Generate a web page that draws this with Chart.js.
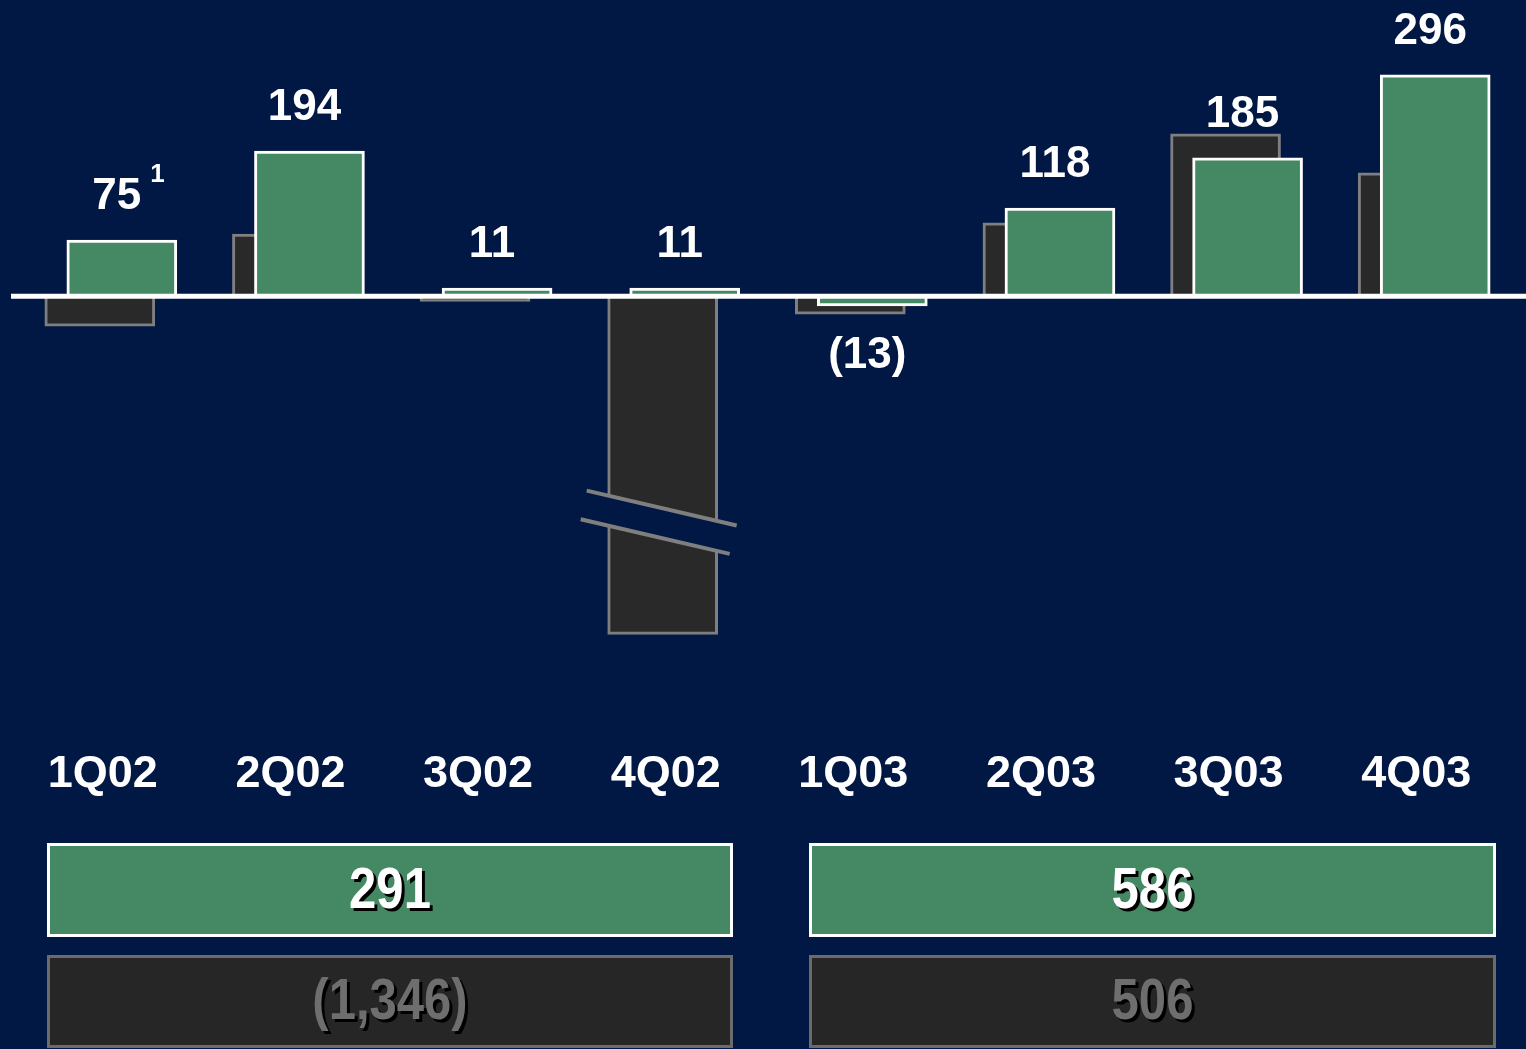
<!DOCTYPE html>
<html>
<head>
<meta charset="utf-8">
<script src="https://cdn.jsdelivr.net/npm/chart.js@4"></script>
<style>
  html, body { margin: 0; padding: 0; background: #011844; }
  canvas { display: block; }
</style>
</head>
<body>
<canvas id="earnings" width="1526" height="1049"></canvas>
<script>
const quarters = ['1Q02', '2Q02', '3Q02', '4Q02', '1Q03', '2Q03', '3Q03', '4Q03'];
const currentValues = [75, 194, 11, 11, -13, 118, 185, 296];
const priorValues = [-40, 83, -7, -1382, -24, 98, 217, 165];
const footnotes = ['1', '', '', '', '', '', '', ''];
const currentTotals = [291, 586];
const priorTotals = [-1346, 506];

const NAVY = '#011844';
const GREEN = '#448864';
const GRAY_FILL = '#292929';
const GRAY_EDGE = '#7f7f7f';
const BREAK_FLOOR = -452;   // bars deeper than this get cut with a break mark
const PAIR_SHIFT = 0.0587;  // half the offset between the two bars of a quarter
const LABEL_FONT = 'bold 44px "Liberation Sans", Arial, sans-serif';
const TOTAL_FONT = 'bold 57px "Liberation Sans", Arial, sans-serif';
const BOX_X = [[47, 733], [809, 1496]];

function fmt(v) {
  const s = Math.abs(v).toLocaleString('en-US');
  return v < 0 ? '(' + s + ')' : s;
}

const background = {
  id: 'background',
  beforeDraw(chart) {
    const c = chart.ctx;
    c.save();
    c.fillStyle = NAVY;
    c.fillRect(0, 0, chart.width, chart.height);
    c.restore();
  }
};

const decorations = {
  id: 'decorations',
  afterDatasetsDraw(chart) {
    const c = chart.ctx;
    const ys = chart.scales.y;
    const zero = ys.getPixelForValue(0);
    const cur = chart.getDatasetMeta(0);
    const prev = chart.getDatasetMeta(1);
    c.save();

    // axis break on the bars that run off the scale
    priorValues.forEach((v, i) => {
      if (v >= BREAK_FLOOR) return;
      const bar = prev.data[i];
      const cx = bar.x, cy = bar.y - 112, s = 0.233;
      const l1 = x => cy - 14 + (x - cx) * s;
      const l2 = x => cy + 16 + (x - cx) * s;
      c.fillStyle = NAVY;
      c.beginPath();
      c.moveTo(cx - 62, l1(cx - 62));
      c.lineTo(cx + 62, l1(cx + 62));
      c.lineTo(cx + 62, l2(cx + 62));
      c.lineTo(cx - 62, l2(cx - 62));
      c.closePath();
      c.fill();
      c.strokeStyle = GRAY_EDGE;
      c.lineWidth = 4;
      c.beginPath();
      c.moveTo(cx - 76, l1(cx - 76));
      c.lineTo(cx + 74, l1(cx + 74));
      c.moveTo(cx - 82, l2(cx - 82));
      c.lineTo(cx + 67, l2(cx + 67));
      c.stroke();
    });

    // zero line
    c.strokeStyle = '#ffffff';
    c.lineWidth = 5;
    c.beginPath();
    c.moveTo(11, zero);
    c.lineTo(chart.width, zero);
    c.stroke();

    // value labels over the green bars
    c.fillStyle = '#ffffff';
    c.textAlign = 'center';
    c.textBaseline = 'alphabetic';
    currentValues.forEach((v, i) => {
      const bar = cur.data[i];
      const x = bar.x - 5;
      const y = v >= 0 ? bar.y - 31 : bar.y + 62;
      c.font = LABEL_FONT;
      const txt = fmt(v);
      c.fillText(txt, x, y);
      if (footnotes[i]) {
        const w = c.measureText(txt).width;
        c.font = 'bold 26px "Liberation Sans", Arial, sans-serif';
        c.textAlign = 'left';
        c.fillText(footnotes[i], x + w / 2 + 9, y - 27);
        c.textAlign = 'center';
      }
    });

    // yearly totals, in a condensed face
    const boxes = [
      { top: 843, h: 94, fill: GREEN, edge: '#ffffff', text: '#ffffff', values: currentTotals },
      { top: 955, h: 93, fill: '#262626', edge: '#6b6b6b', text: '#6e6e6e', values: priorTotals }
    ];
    boxes.forEach(b => {
      BOX_X.forEach(([x0, x1], k) => {
        c.fillStyle = b.fill;
        c.fillRect(x0, b.top, x1 - x0, b.h);
        c.strokeStyle = b.edge;
        c.lineWidth = 3;
        c.strokeRect(x0 + 1.5, b.top + 1.5, x1 - x0 - 3, b.h - 3);
        c.save();
        c.translate((x0 + x1) / 2, b.top + b.h / 2 + 2);
        c.scale(0.86, 1);
        c.font = TOTAL_FONT;
        c.textBaseline = 'middle';
        c.shadowColor = '#000000';
        c.shadowOffsetX = 3;
        c.shadowOffsetY = 3;
        c.shadowBlur = 0;
        c.fillStyle = b.text;
        c.fillText(fmt(b.values[k]), 0, 0);
        c.restore();
      });
    });
    c.restore();
  }
};

new Chart(document.getElementById('earnings'), {
  type: 'bar',
  data: {
    datasets: [
      {
        label: 'current',
        data: currentValues.map((v, i) => ({ x: i + PAIR_SHIFT, y: v })),
        backgroundColor: GREEN,
        borderColor: '#ffffff',
        borderWidth: 3,
        order: 0
      },
      {
        label: 'prior',
        data: priorValues.map((v, i) => ({ x: i - PAIR_SHIFT, y: Math.max(v, BREAK_FLOOR) })),
        backgroundColor: GRAY_FILL,
        borderColor: GRAY_EDGE,
        borderWidth: 3,
        order: 1
      }
    ]
  },
  options: {
    responsive: false,
    animation: false,
    devicePixelRatio: 1,
    grouped: false,
    barThickness: 110,
    layout: { padding: { top: 12, left: 17, right: 8, bottom: 244 } },
    plugins: { legend: { display: false }, tooltip: { enabled: false } },
    scales: {
      x: {
        type: 'linear',
        offset: false,
        min: -0.5,
        max: 7.5,
        afterBuildTicks: axis => { axis.ticks = quarters.map((_, i) => ({ value: i })); },
        afterFit: axis => { axis.paddingLeft = 0; axis.paddingRight = 0; },
        grid: { display: false, drawTicks: false, offset: false },
        border: { display: false },
        ticks: {
          color: '#ffffff',
          font: { family: '"Liberation Sans", Arial, sans-serif', size: 45, weight: 'bold' },
          padding: 3,
          labelOffset: -8,
          autoSkip: false,
          maxRotation: 0,
          callback: v => quarters[v]
        }
      },
      y: {
        display: false,
        min: -600,
        max: 380
      }
    }
  },
  plugins: [background, decorations]
});
</script>
</body>
</html>
